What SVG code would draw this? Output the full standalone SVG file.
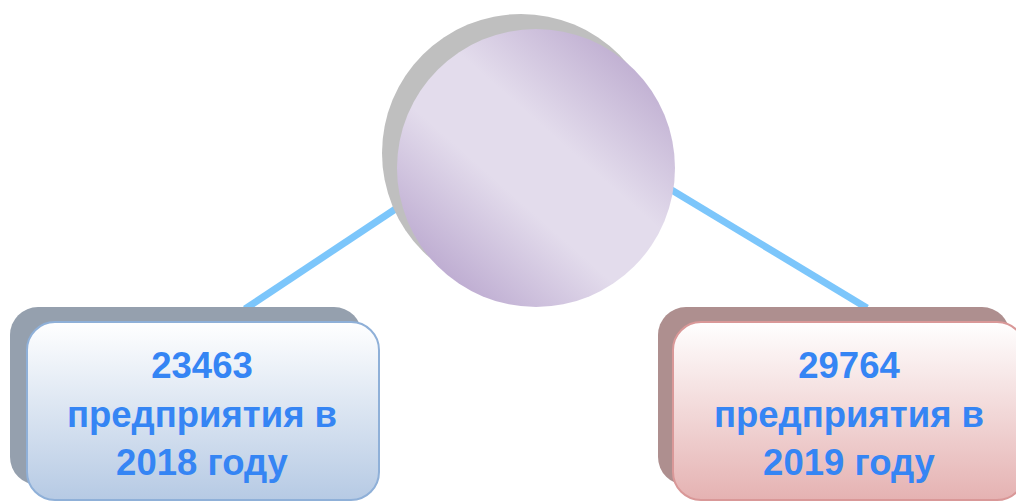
<svg xmlns="http://www.w3.org/2000/svg" width="1016" height="501" viewBox="0 0 1016 501">
<defs>
<linearGradient id="gCircle" x1="0.85" y1="0.1" x2="0.15" y2="0.9">
<stop offset="0" stop-color="#bfaed1"/>
<stop offset="0.38" stop-color="#e3dcec"/>
<stop offset="0.62" stop-color="#e3dcec"/>
<stop offset="1" stop-color="#bcaad0"/>
</linearGradient>
<linearGradient id="gBlue" x1="0" y1="0" x2="0" y2="1">
<stop offset="0" stop-color="#ffffff"/>
<stop offset="1" stop-color="#b6cae4"/>
</linearGradient>
<linearGradient id="gRed" x1="0" y1="0" x2="0" y2="1">
<stop offset="0" stop-color="#ffffff"/>
<stop offset="1" stop-color="#e5b2b2"/>
</linearGradient>
<style>
.conn{stroke:#7cc6fb;stroke-width:7;fill:none}
.lbl{font-family:"Liberation Sans",Arial,sans-serif;font-weight:bold;font-size:36.5px;fill:#3585f4;text-anchor:middle}
</style>
</defs>
<rect width="1016" height="501" fill="#ffffff"/>
<g id="connectors">
<line class="conn" x1="245" y1="309" x2="400" y2="206"/>
<line class="conn" x1="670" y1="189" x2="867" y2="308"/>
</g>
<g id="center">
<circle cx="521" cy="153" r="139" fill="#bfbfbf"/>
<circle cx="536" cy="168" r="139" fill="url(#gCircle)"/>
</g>
<g id="node2018">
<rect x="10" y="307" width="352" height="178" rx="28" fill="#95a0ae"/>
<rect x="27" y="322" width="352" height="178" rx="28" fill="url(#gBlue)" stroke="#8fb0d8" stroke-width="2"/>
<text class="lbl" x="202" y="378">23463</text>
<text class="lbl" x="202" y="427">предприятия в</text>
<text class="lbl" x="202" y="475">2018 году</text>
</g>
<g id="node2019">
<rect x="658" y="307" width="352" height="178" rx="28" fill="#ae8f8f"/>
<rect x="673" y="322" width="352" height="178" rx="28" fill="url(#gRed)" stroke="#d99898" stroke-width="2"/>
<text class="lbl" x="849" y="378">29764</text>
<text class="lbl" x="849" y="427">предприятия в</text>
<text class="lbl" x="849" y="475">2019 году</text>
</g>
</svg>
